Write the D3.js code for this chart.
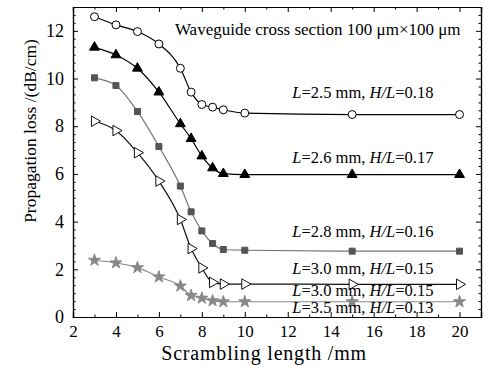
<!DOCTYPE html>
<html lang="en">
<head>
    <meta charset="UTF-8">
    <title>Propagation loss vs scrambling length</title>
    <script src="https://d3js.org/d3.v7.min.js"></script>
    <style>
        body {
            margin: 0;
            padding: 0;
            background-color: #fff;
        }
        svg text {
            font-family: "Liberation Serif", "Times New Roman", serif;
            fill: #000;
        }
    </style>
</head>
<body>
    <div id="chart"></div>

    <script>
        // scrambling length (mm)
        const xValues = [3, 4, 5, 6, 7, 7.5, 8, 8.5, 9, 10, 15, 20];

        // propagation loss (dB/cm), one array per waveguide
        const lossL25 = [12.59, 12.25, 11.97, 11.45, 10.43, 9.43, 8.91, 8.80, 8.69, 8.55, 8.49, 8.49];
        const lossL26 = [11.31, 10.99, 10.43, 9.43, 8.10, 7.48, 6.75, 6.25, 6.01, 5.97, 5.97, 5.97];
        const lossL28 = [10.03, 9.71, 8.62, 7.15, 5.49, 4.41, 3.61, 3.08, 2.83, 2.80, 2.76, 2.76];
        const lossL30 = [8.21, 7.82, 6.89, 5.70, 4.09, 2.87, 2.06, 1.45, 1.38, 1.38, 1.37, 1.37];
        const lossL35 = [2.38, 2.27, 2.07, 1.68, 1.30, 0.90, 0.79, 0.68, 0.64, 0.64, 0.64, 0.64];

        const xTicks = [2, 4, 6, 8, 10, 12, 14, 16, 18, 20];
        const yTicks = [0, 2, 4, 6, 8, 10, 12];

        // curve labels: [L, H/L, x, y]
        const labels = [
            ['2.5', '0.18', 15.5, 9.2],
            ['2.6', '0.17', 15.5, 6.44],
            ['2.8', '0.16', 15.5, 3.35],
            ['3.0', '0.15', 15.5, 1.8],
            ['3.0', '0.15', 15.5, 0.86],
            ['3.5', '0.13', 15.5, 0.15]
        ];
        const titleText = 'Waveguide cross section 100 \u03bcm\u00d7100 \u03bcm';

        const margin = {top: 7, right: 2, bottom: 48, left: 73};
        const W = 483, H = 365;
        const width = W - margin.left - margin.right;
        const height = H - margin.top - margin.bottom;

        const svg = d3.select('#chart')
            .append('svg')
            .attr('width', W)
            .attr('height', H);
        const g = svg.append('g')
            .attr('transform', `translate(${margin.left},${margin.top})`);

        const x = d3.scaleLinear().domain([2, 21]).range([0, width]);
        const y = d3.scaleLinear().domain([0, 13]).range([height, 0]);

        // minor ticks
        const xMinor = d3.range(3, 21.01, 1).filter(v => v % 2 !== 0);
        const yMinor = d3.range(0, 13.01, 1 / 3).filter(v => Math.abs(v / 2 - Math.round(v / 2)) > 0.01);

        function styleAxis(sel) {
            sel.select('.domain').attr('stroke', '#000').attr('stroke-width', 1.2);
            sel.selectAll('.tick line').attr('stroke', '#000').attr('stroke-width', 1);
        }

        // bottom
        g.append('g').attr('transform', `translate(0,${height})`)
            .call(d3.axisBottom(x).tickValues(xMinor).tickSize(-2.5).tickFormat(''))
            .call(styleAxis);
        g.append('g').attr('transform', `translate(0,${height})`)
            .call(d3.axisBottom(x).tickValues(xTicks).tickSize(-5).tickPadding(8).tickFormat(d3.format('d')))
            .call(styleAxis)
            .selectAll('text').style('font-size', '17px');
        // top
        g.append('g')
            .call(d3.axisTop(x).tickValues(xMinor).tickSize(-2.5).tickFormat(''))
            .call(styleAxis);
        g.append('g')
            .call(d3.axisTop(x).tickValues(xTicks).tickSize(-5).tickFormat(''))
            .call(styleAxis);
        // left
        g.append('g')
            .call(d3.axisLeft(y).tickValues(yMinor).tickSize(-2.5).tickFormat(''))
            .call(styleAxis);
        g.append('g')
            .call(d3.axisLeft(y).tickValues(yTicks).tickSize(-5).tickPadding(9).tickFormat(d3.format('d')))
            .call(styleAxis)
            .selectAll('text').style('font-size', '18px');
        // right
        g.append('g').attr('transform', `translate(${width},0)`)
            .call(d3.axisRight(y).tickValues(yMinor).tickSize(-2.5).tickFormat(''))
            .call(styleAxis);
        g.append('g').attr('transform', `translate(${width},0)`)
            .call(d3.axisRight(y).tickValues(yTicks).tickSize(-5).tickFormat(''))
            .call(styleAxis);

        // series
        const series = [
            {values: lossL25, line: '#000', fill: '#fff', stroke: '#000', symbol: d3.symbolCircle, size: 50, rotate: 0},
            {values: lossL26, line: '#000', fill: '#000', stroke: '#000', symbol: d3.symbolTriangle, size: 42, rotate: 0},
            {values: lossL28, line: '#777', fill: '#555', stroke: '#555', symbol: d3.symbolSquare, size: 36, rotate: 0},
            {values: lossL30, line: '#111', fill: '#fff', stroke: '#111', symbol: d3.symbolTriangle, size: 48, rotate: 90},
            {values: lossL35, line: '#888', fill: '#888', stroke: '#888', symbol: d3.symbolStar, size: 45, rotate: 0}
        ];

        const line = d3.line()
            .x(d => x(d[0]))
            .y(d => y(d[1]))
            .curve(d3.curveMonotoneX);

        series.forEach(s => {
            const pts = xValues.map((v, i) => [v, s.values[i]]);
            g.append('path')
                .datum(pts)
                .attr('fill', 'none')
                .attr('stroke', s.line)
                .attr('stroke-width', 1.2)
                .attr('d', line);
            g.selectAll(null)
                .data(pts)
                .enter()
                .append('path')
                .attr('transform', d => `translate(${x(d[0])},${y(d[1])}) rotate(${s.rotate})`)
                .attr('d', d3.symbol().type(s.symbol).size(s.size))
                .attr('fill', s.fill)
                .attr('stroke', s.stroke)
                .attr('stroke-width', 1);
        });

        // curve labels
        labels.forEach(l => {
            const t = g.append('text')
                .attr('x', x(l[2]))
                .attr('y', y(l[3]))
                .attr('text-anchor', 'middle')
                .style('font-size', '16.5px');
            t.append('tspan').style('font-style', 'italic').text('L');
            t.append('tspan').text(`=${l[0]} mm, `);
            t.append('tspan').style('font-style', 'italic').text('H/L');
            t.append('tspan').text(`=${l[1]}`);
        });

        g.append('text')
            .attr('x', x(20.05))
            .attr('y', y(11.82))
            .attr('text-anchor', 'end')
            .style('font-size', '17px')
            .text(titleText);

        // axis titles
        svg.append('text')
            .attr('x', margin.left + x(10.9))
            .attr('y', 360)
            .attr('text-anchor', 'middle')
            .style('font-size', '20px')
            .style('letter-spacing', '0.8px')
            .text('Scrambling length /mm');

        svg.append('text')
            .attr('transform', `translate(36,${margin.top + y(7.8)}) rotate(-90)`)
            .attr('text-anchor', 'middle')
            .style('font-size', '17.5px')
            .text('Propagation loss /(dB/cm)');
    </script>
</body>
</html>
